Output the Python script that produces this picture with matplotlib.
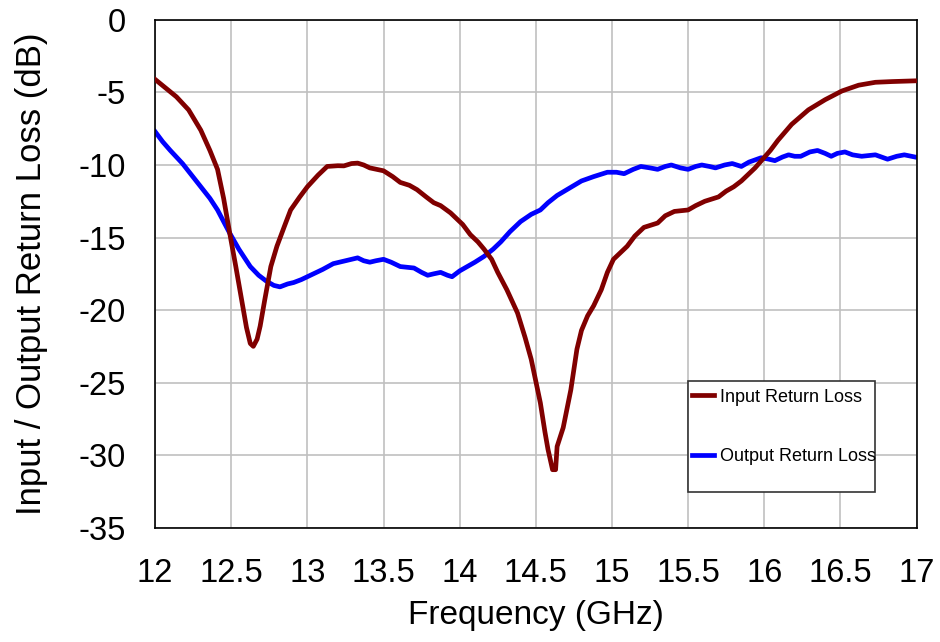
import matplotlib
matplotlib.use("Agg")
import matplotlib.pyplot as plt
from matplotlib.patches import Rectangle

plt.rcParams['font.family'] = ['Liberation Sans', 'DejaVu Sans']
plt.rcParams['axes.unicode_minus'] = False

# Input return loss (GHz, dB)
input_freq = [12.00, 12.07, 12.14, 12.22, 12.30, 12.36, 12.41, 12.45, 12.49, 12.53,
              12.56, 12.60, 12.625, 12.645, 12.67, 12.69, 12.72, 12.76, 12.80, 12.85,
              12.89, 12.95, 13.00, 13.07, 13.13, 13.20, 13.24, 13.29, 13.33, 13.37,
              13.41, 13.50, 13.56, 13.61, 13.67, 13.72, 13.78, 13.83, 13.875, 13.94,
              13.96, 14.02, 14.07, 14.12, 14.16, 14.21, 14.25, 14.31, 14.38, 14.43,
              14.47, 14.50, 14.53, 14.56, 14.58, 14.61, 14.63, 14.64, 14.68, 14.73,
              14.77, 14.80, 14.84, 14.88, 14.93, 14.97, 15.01, 15.05, 15.10, 15.15,
              15.21, 15.30, 15.35, 15.41, 15.50, 15.55, 15.61, 15.70, 15.75, 15.80,
              15.85, 15.89, 15.94, 15.99, 16.04, 16.09, 16.18, 16.29, 16.40, 16.51,
              16.62, 16.73, 16.84, 16.99]
input_db = [-4.1, -4.7, -5.3, -6.2, -7.6, -9.0, -10.3, -12.3, -14.7, -17.0,
            -18.8, -21.2, -22.3, -22.5, -22.0, -21.1, -19.3, -17.0, -15.6, -14.2,
            -13.1, -12.2, -11.5, -10.7, -10.1, -10.05, -10.06, -9.9, -9.87, -10.0,
            -10.2, -10.4, -10.8, -11.2, -11.4, -11.7, -12.2, -12.6, -12.8, -13.3,
            -13.5, -14.1, -14.8, -15.3, -15.8, -16.5, -17.4, -18.6, -20.2, -21.9,
            -23.4, -24.9, -26.4, -28.4, -29.6, -31.0, -31.0, -29.4, -28.1, -25.5,
            -22.7, -21.4, -20.4, -19.7, -18.6, -17.4, -16.5, -16.1, -15.6, -14.9,
            -14.3, -14.0, -13.5, -13.2, -13.1, -12.8, -12.5, -12.2, -11.8, -11.5,
            -11.1, -10.7, -10.2, -9.6, -9.0, -8.3, -7.2, -6.2, -5.5, -4.9,
            -4.5, -4.3, -4.25, -4.2]

# Output return loss (GHz, dB)
output_freq = [12.00, 12.05, 12.10, 12.18, 12.24, 12.30, 12.36, 12.41, 12.49, 12.55,
               12.625, 12.68, 12.73, 12.78, 12.82, 12.87, 12.91, 12.96, 13.02, 13.10,
               13.17, 13.25, 13.33, 13.37, 13.41, 13.45, 13.50, 13.55, 13.61, 13.70,
               13.75, 13.79, 13.83, 13.875, 13.92, 13.95, 14.00, 14.05, 14.10, 14.16,
               14.22, 14.27, 14.33, 14.40, 14.47, 14.53, 14.58, 14.64, 14.72, 14.80,
               14.88, 14.97, 15.03, 15.08, 15.14, 15.19, 15.25, 15.30, 15.35, 15.39,
               15.45, 15.50, 15.55, 15.59, 15.64, 15.68, 15.74, 15.79, 15.85, 15.90,
               15.98, 16.03, 16.07, 16.12, 16.16, 16.20, 16.24, 16.30, 16.35, 16.40,
               16.44, 16.48, 16.53, 16.58, 16.64, 16.73, 16.81, 16.87, 16.92, 16.99]
output_db = [-7.7, -8.4, -9.0, -9.9, -10.7, -11.5, -12.3, -13.1, -14.7, -15.8,
             -17.0, -17.6, -18.0, -18.3, -18.4, -18.2, -18.1, -17.9, -17.6, -17.2,
             -16.8, -16.6, -16.4, -16.6, -16.7, -16.6, -16.5, -16.7, -17.0, -17.1,
             -17.4, -17.6, -17.5, -17.4, -17.6, -17.7, -17.3, -17.0, -16.7, -16.3,
             -15.8, -15.3, -14.6, -13.9, -13.4, -13.1, -12.6, -12.1, -11.6, -11.1,
             -10.8, -10.5, -10.5, -10.6, -10.3, -10.1, -10.2, -10.3, -10.1, -10.0,
             -10.2, -10.3, -10.1, -10.0, -10.1, -10.2, -10.0, -9.9, -10.1, -9.8,
             -9.5, -9.6, -9.7, -9.45, -9.3, -9.4, -9.4, -9.1, -9.0, -9.2,
             -9.4, -9.2, -9.1, -9.3, -9.4, -9.3, -9.6, -9.4, -9.3, -9.45]

x_ticks = [12, 12.5, 13, 13.5, 14, 14.5, 15, 15.5, 16, 16.5, 17]
x_tick_labels = ['12', '12.5', '13', '13.5', '14', '14.5', '15', '15.5', '16', '16.5', '17']
y_ticks = [0, -5, -10, -15, -20, -25, -30, -35]

fig = plt.figure(figsize=(9.4, 6.42), dpi=100)
ax = fig.add_axes([0.165, 0.178, 0.810, 0.791])

ax.plot(input_freq, input_db, color='#800000', lw=3.4, label='Input Return Loss', zorder=3)
ax.plot(output_freq, output_db, color='#0000ff', lw=3.4, label='Output Return Loss', zorder=2)

ax.set_xlim(12, 17)
ax.set_ylim(-35, 0)
ax.set_xticks(x_ticks)
ax.set_xticklabels(x_tick_labels)
ax.set_yticks(y_ticks)
ax.grid(True, color='#c0c0c0', lw=1.2)
ax.set_axisbelow(True)
ax.tick_params(length=0, labelsize=23.5)
ax.tick_params(axis='x', pad=22)
ax.tick_params(axis='y', pad=21)
for s in ax.spines.values():
    s.set_color('black')
    s.set_linewidth(1.2)

ax.set_xlabel('Frequency (GHz)', fontsize=24, labelpad=8)
ax.set_ylabel('Input / Output Return Loss (dB)', fontsize=25, labelpad=22)

# legend box
ax.add_patch(Rectangle((0.7004, 0.0709), 0.2457, 0.2185, transform=ax.transAxes,
                       facecolor='white', edgecolor='#333333', lw=1.2, zorder=4))
ax.legend(loc='upper left', bbox_to_anchor=(0.7057, 0.274), frameon=False,
          fontsize=13, borderpad=0, borderaxespad=0, handlelength=1.2,
          handletextpad=0.3, labelspacing=2.35).set_zorder(5)

fig.savefig('out.png', dpi=100)
